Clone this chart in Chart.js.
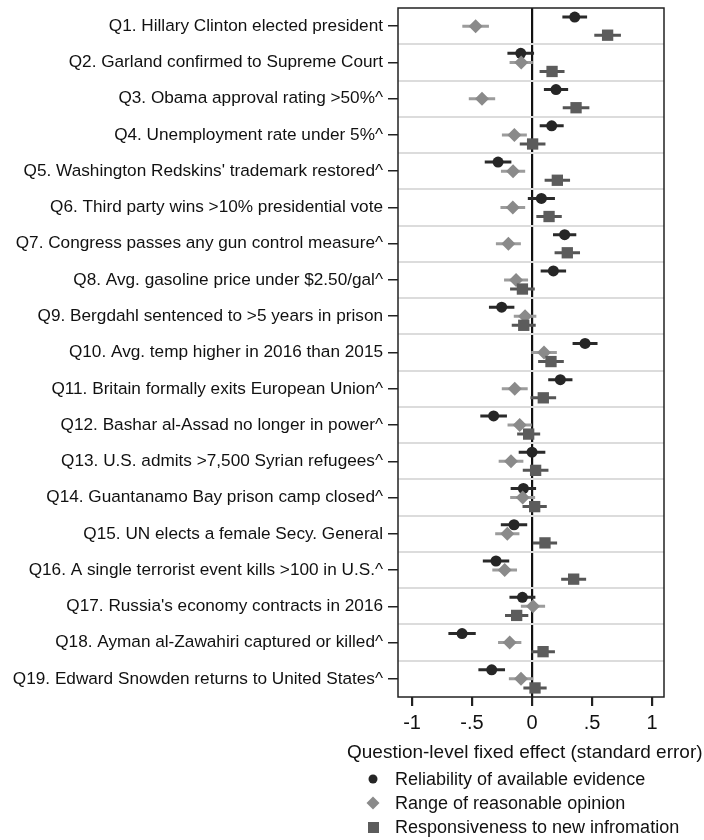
<!DOCTYPE html>
<html>
<head>
<meta charset="utf-8">
<script src="https://cdn.jsdelivr.net/npm/chart.js@4.4.1/dist/chart.umd.min.js"></script>
<style>
  html, body { margin: 0; padding: 0; background: #fff; }
  #wrap { position: relative; width: 704px; height: 840px; font-family: "Liberation Sans", Arial, sans-serif; color: #111; }
  #xtitle { position: absolute; left: 347px; top: 741px; font-size: 19px; white-space: nowrap; }
  #legend { position: absolute; left: 366px; top: 767px; font-size: 18px; }
  #legend div { display: flex; align-items: center; height: 24px; white-space: nowrap; }
  #legend span.mk { width: 14px; height: 14px; margin-right: 15px; display: flex; align-items: center; justify-content: center; }
</style>
</head>
<body>
<div id="wrap">
  <canvas id="chart" width="704" height="840"></canvas>
  <div id="xtitle">Question-level fixed effect (standard error)</div>
  <div id="legend"></div>
</div>
<script>
  const questions = [
    "Q1. Hillary Clinton elected president",
    "Q2. Garland confirmed to Supreme Court",
    "Q3. Obama approval rating >50%^",
    "Q4. Unemployment rate under 5%^",
    "Q5. Washington Redskins' trademark restored^",
    "Q6. Third party wins >10% presidential vote",
    "Q7. Congress passes any gun control measure^",
    "Q8. Avg. gasoline price under $2.50/gal^",
    "Q9. Bergdahl sentenced to >5 years in prison",
    "Q10. Avg. temp higher in 2016 than 2015",
    "Q11. Britain formally exits European Union^",
    "Q12. Bashar al-Assad no longer in power^",
    "Q13. U.S. admits >7,500 Syrian refugees^",
    "Q14. Guantanamo Bay prison camp closed^",
    "Q15. UN elects a female Secy. General",
    "Q16. A single terrorist event kills >100 in U.S.^",
    "Q17. Russia's economy contracts in 2016",
    "Q18. Ayman al-Zawahiri captured or killed^",
    "Q19. Edward Snowden returns to United States^"
  ];

  const seriesNames = [
    "Reliability of available evidence",
    "Range of reasonable opinion",
    "Responsiveness to new infromation"
  ];

  // point estimates
  const reliability = [0.356, -0.094, 0.200, 0.164, -0.283, 0.078, 0.272, 0.178, -0.253, 0.442,
                       0.236, -0.320, 0.000, -0.072, -0.150, -0.300, -0.080, -0.583, -0.336];
  const range =       [-0.470, -0.090, -0.417, -0.147, -0.158, -0.160, -0.197, -0.133, -0.058, 0.100,
                       -0.144, -0.103, -0.175, -0.078, -0.206, -0.228, 0.008, -0.186, -0.092];
  const responsive =  [0.630, 0.167, 0.367, 0.005, 0.211, 0.142, 0.294, -0.080, -0.069, 0.158,
                       0.094, -0.028, 0.030, 0.022, 0.108, 0.347, -0.128, 0.092, 0.025];

  // half width of the error bars
  const reliabilitySe = [0.103, 0.111, 0.101, 0.100, 0.111, 0.113, 0.097, 0.106, 0.106, 0.104,
                         0.101, 0.111, 0.111, 0.106, 0.110, 0.110, 0.108, 0.114, 0.111];
  const rangeSe =       [0.111, 0.097, 0.110, 0.104, 0.101, 0.103, 0.104, 0.100, 0.094, 0.107,
                         0.108, 0.101, 0.103, 0.104, 0.101, 0.103, 0.101, 0.097, 0.101];
  const responsiveSe =  [0.111, 0.104, 0.111, 0.107, 0.106, 0.106, 0.106, 0.103, 0.100, 0.107,
                         0.107, 0.096, 0.107, 0.101, 0.101, 0.104, 0.097, 0.099, 0.097];

  const xTicks = [-1, -0.5, 0, 0.5, 1];

  const styles = [
    { values: reliability, se: reliabilitySe, offset: -0.25, shape: "circle", radius: 5.5, fill: "#262626", bar: "#2a2a2a" },
    { values: range, se: rangeSe, offset: 0, shape: "rectRot", radius: 7, fill: "#8a8a8a", bar: "#9c9c9c" },
    { values: responsive, se: responsiveSe, offset: 0.25, shape: "rect", radius: 8, fill: "#5c5c5c", bar: "#555" }
  ];

  const datasets = [];
  styles.forEach((s, k) => {
    const segs = [];
    s.values.forEach((v, i) => {
      const y = i + 1 + s.offset;
      segs.push({ x: v - s.se[i], y }, { x: v + s.se[i], y }, { x: null, y: null });
    });
    datasets.push({
      label: seriesNames[k] + " bar",
      data: segs,
      showLine: true,
      spanGaps: false,
      borderColor: s.bar,
      borderWidth: 3,
      pointRadius: 0,
      order: 10 - k
    });
  });
  styles.forEach((s, k) => {
    datasets.push({
      label: seriesNames[k],
      data: s.values.map((v, i) => ({ x: v, y: i + 1 + s.offset })),
      pointStyle: s.shape,
      pointRadius: s.radius,
      pointBackgroundColor: s.fill,
      pointBorderColor: s.fill,
      pointBorderWidth: 0,
      showLine: false,
      order: 3 - k
    });
  });

  const framePlugin = {
    id: "frame",
    afterDraw(chart) {
      const { ctx, chartArea: a } = chart;
      ctx.save();
      ctx.strokeStyle = "#222";
      ctx.lineWidth = 1.5;
      ctx.strokeRect(a.left, a.top, a.right - a.left, a.bottom - a.top);
      ctx.restore();
    }
  };

  Chart.defaults.font.family = "'Liberation Sans', Arial, sans-serif";
  Chart.defaults.color = "#111";

  new Chart(document.getElementById("chart"), {
    type: "scatter",
    data: { datasets },
    options: {
      responsive: false,
      animation: false,
      layout: { padding: { top: 7, right: 40, bottom: 100, left: 0 } },
      plugins: { legend: { display: false }, tooltip: { enabled: false } },
      scales: {
        x: {
          type: "linear",
          min: -1.117,
          max: 1.1,
          afterBuildTicks: scale => { scale.ticks = xTicks.map(value => ({ value })); },
          afterFit: scale => { scale.height = 43; scale.paddingLeft = 0; scale.paddingRight = 0; },
          ticks: {
            font: { size: 20 },
            padding: 5,
            callback: value => String(value).replace("0.", ".")
          },
          grid: {
            drawOnChartArea: true,
            color: ctx => ctx.tick && ctx.tick.value === 0 ? "#111" : "rgba(0,0,0,0)",
            lineWidth: 2.2,
            tickColor: "#222",
            tickLength: 9
          },
          border: { display: false }
        },
        y: {
          type: "linear",
          reverse: true,
          min: 0.5,
          max: 19.5,
          afterBuildTicks: scale => { scale.ticks = questions.map((q, i) => ({ value: i + 1 })); },
          afterFit: scale => { scale.width = 398; scale.paddingTop = 0; scale.paddingBottom = 0; },
          ticks: {
            font: { size: 17.2 },
            padding: 5,
            callback: value => questions[value - 1]
          },
          grid: { drawOnChartArea: false, tickColor: "#222", tickLength: 10, lineWidth: 1.5 },
          border: { display: false }
        },
        sep: {
          type: "linear",
          position: "right",
          reverse: true,
          min: 0.5,
          max: 19.5,
          afterBuildTicks: scale => { scale.ticks = questions.slice(1).map((q, i) => ({ value: i + 1.5 })); },
          afterFit: scale => { scale.width = 0; scale.paddingTop = 0; scale.paddingBottom = 0; },
          ticks: { display: false },
          grid: { color: "#dcdcdc", lineWidth: 2, drawTicks: false },
          border: { display: false }
        }
      }
    },
    plugins: [framePlugin]
  });

  const legend = document.getElementById("legend");
  const marks = [
    '<svg width="10" height="10"><circle cx="5" cy="5" r="4.5" fill="#262626"/></svg>',
    '<svg width="14" height="14"><polygon points="7,0.5 13.5,7 7,13.5 0.5,7" fill="#8a8a8a"/></svg>',
    '<svg width="11" height="11"><rect width="11" height="11" fill="#5c5c5c"/></svg>'
  ];
  legend.innerHTML = seriesNames.map((name, i) => `<div><span class="mk">${marks[i]}</span>${name}</div>`).join("");
</script>
</body>
</html>
